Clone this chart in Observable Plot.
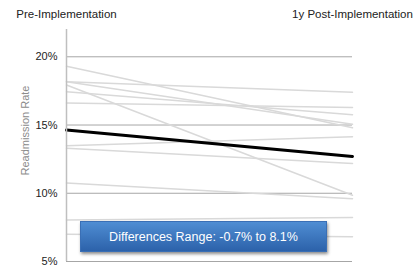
<!DOCTYPE html>
<html><head><meta charset="utf-8">
<script src="https://cdn.jsdelivr.net/npm/d3@7"></script>
<script src="https://cdn.jsdelivr.net/npm/@observablehq/plot@0.6"></script>
<style>
html,body{margin:0;padding:0;background:#fff;}
#wrap{position:relative;width:417px;height:266px;overflow:hidden;font-family:"Liberation Sans",Arial,sans-serif;}
#wrap svg{position:absolute;left:0;top:0;}
#note{position:absolute;left:80px;top:221px;width:247px;height:31px;z-index:2;
  background:linear-gradient(#4f8dd3,#2c62aa);box-shadow:1px 2px 3px rgba(0,0,0,0.45);
  border:1px solid #3a6fb5;box-sizing:border-box;color:#fff;font-size:12.5px;
  display:flex;align-items:center;justify-content:center;}
</style></head><body>
<div id="wrap"><div id="note">Differences Range: -0.7% to 8.1%</div></div>
<script>
const periods = ["Pre-Implementation", "1y Post-Implementation"];
const preRates  = [19.30, 18.17, 18.17, 17.93, 17.44, 16.61, 13.48, 13.30, 10.75, 8.04, 7.00];
const postRates = [14.80, 17.40, 15.05,  9.85, 15.76, 16.29, 14.14, 12.18,  9.60, 8.23, 6.81];
const avgRates  = [14.63, 12.70];
const yTicks = [5, 10, 15, 20];
const yLabel = "Readmission Rate";

const units = preRates.flatMap((v, i) => [
  {unit: i, period: periods[0], rate: v},
  {unit: i, period: periods[1], rate: postRates[i]}
]);
const avg = avgRates.map((v, i) => ({period: periods[i], rate: v}));

const chart = Plot.plot({
  width: 417, height: 266,
  marginLeft: 66, marginRight: 65, marginTop: 29, marginBottom: 5,
  style: {fontFamily: "'Liberation Sans', Arial, sans-serif", fontSize: "11px", color: "#222", background: "transparent", overflow: "visible"},
  x: {type: "point", domain: periods, padding: 0},
  y: {domain: [5, 22]},
  marks: [
    Plot.gridY(yTicks.slice(1), {stroke: "#a6a6a6", strokeOpacity: 1, strokeWidth: 1}),
    Plot.ruleY([5], {stroke: "#a6a6a6", strokeWidth: 1}),
    Plot.line(units, {x: "period", y: "rate", z: "unit", stroke: "#d9d9d9", strokeWidth: 1.5}),
    Plot.line(avg, {x: "period", y: "rate", stroke: "#000", strokeWidth: 3}),
    Plot.ruleX([periods[0]], {stroke: "#bfbfbf", strokeWidth: 1.5}),
    Plot.axisX({anchor: "top", tickSize: 0, tickPadding: 12, label: null, fontSize: 11.5}),
    Plot.axisY({ticks: yTicks, tickSize: 0, tickPadding: 9, tickFormat: d => d + "%",
      label: yLabel, labelAnchor: "center", labelArrow: "none", labelOffset: 45, fontSize: 11})
  ]
});
document.getElementById("wrap").prepend(chart);
chart.querySelectorAll("text").forEach(t => {
  if (t.textContent === yLabel) {
    t.setAttribute("fill", "#8c8c8c");
    t.setAttribute("font-size", "11");
    t.setAttribute("dx", "15");
  }
});
</script>
</body></html>
